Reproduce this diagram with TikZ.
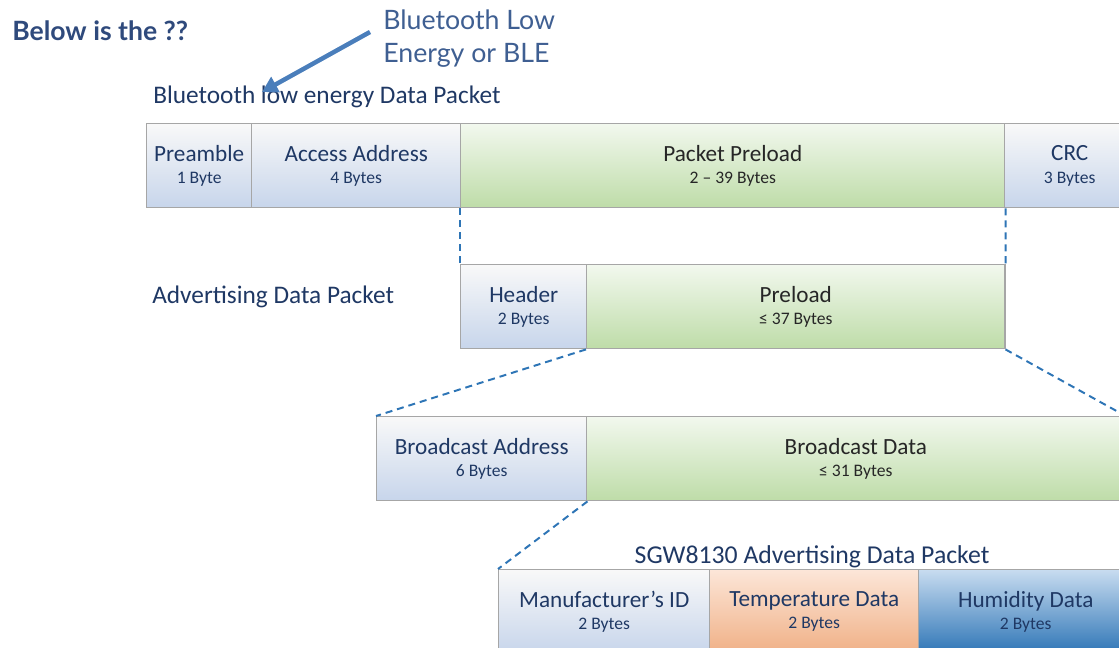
\documentclass[tikz,border=0pt]{standalone}
\usepackage{fontspec}
\setmainfont{Carlito}
\newfontfamily\lato{Lato}
\usetikzlibrary{arrows.meta}
\definecolor{bordergray}{HTML}{A6A6A6}
\definecolor{navy}{HTML}{1F3864}
\definecolor{darktxt}{HTML}{262626}
\definecolor{headblue}{HTML}{2F4A7C}
\definecolor{noteblue}{HTML}{3F5F92}
\definecolor{dashblue}{HTML}{2E75B6}
\definecolor{arrowblue}{HTML}{4A7EBB}
\newcommand\cellt[2]{{\fontsize{16.5}{18}\selectfont #1}\\[4pt]{\fontsize{12.5}{15}\selectfont #2}}
\tikzset{
  cell/.style={draw=bordergray, line width=1pt, anchor=north west, inner sep=0pt,
    align=center, minimum height=2.1cm},
  bluecell/.style={cell, top color=white!95!gray, middle color=white!84!gray,
    bottom color={rgb,255:red,199;green,213;blue,235}, text=navy},
  greencell/.style={cell, top color={rgb,255:red,242;green,248;blue,238},
    bottom color={rgb,255:red,190;green,220;blue,168}, text=darktxt},
  orangecell/.style={cell, top color={rgb,255:red,252;green,230;blue,216},
    bottom color={rgb,255:red,240;green,176;blue,134}, text=navy},
  humcell/.style={cell, top color={rgb,255:red,200;green,220;blue,240},
    middle color={rgb,255:red,165;green,198;blue,232},
    bottom color={rgb,255:red,46;green,117;blue,182}, text=navy},
  zoomline/.style={draw=dashblue, line width=1.4pt, dash pattern=on 5pt off 3.5pt},
  title/.style={anchor=west, inner sep=0pt, text=navy, font=\fontsize{18}{21}\selectfont},
}
\begin{document}
\begin{tikzpicture}[x=0.025cm, y=-0.025cm]
\useasboundingbox (0,0) rectangle (1119,648);
\clip (0,0) rectangle (1119,648);
% headings
\node[anchor=west, inner sep=0pt, text=headblue, font=\lato\bfseries\fontsize{18.9}{22}\selectfont] (q) at (12,31) {Below is the ??};
\node[anchor=north west, inner sep=0pt, align=left, text=noteblue, font=\lato\fontsize{19}{23.5}\selectfont] (ble) at (383,10) {Bluetooth Low\\Energy or BLE};
\node[title] (t1) at (153,97) {Bluetooth low energy Data Packet};
\node[title] (t2) at (152,297) {Advertising Data Packet};
% row 1
\node[bluecell, minimum width=2.625cm] (pre) at (146,123) {\cellt{Preamble}{1 Byte}};
\node[bluecell, minimum width=5.225cm] (acc) at (251,123) {\cellt{Access Address}{4 Bytes}};
\node[greencell, minimum width=13.6cm] (pp) at (460,123) {\cellt{Packet Preload}{2 – 39 Bytes}};
\node[bluecell, minimum width=3.25cm] (crc) at (1004,123) {\cellt{CRC}{3 Bytes}};
% row 2
\node[bluecell, minimum width=3.15cm] (hdr) at (460,264) {\cellt{Header}{2 Bytes}};
\node[greencell, minimum width=10.45cm] (pl) at (586,264) {\cellt{Preload}{≤ 37 Bytes}};
% row 3
\node[bluecell, minimum width=5.25cm] (bca) at (376,416) {\cellt{Broadcast Address}{6 Bytes}};
\node[greencell, minimum width=13.45cm] (bcd) at (586,416) {\cellt{Broadcast Data}{≤ 31 Bytes}};
% row 4
\node[anchor=center, inner sep=0pt, text=navy, font=\fontsize{18.3}{21}\selectfont] (t3) at (812,557) {SGW8130 Advertising Data Packet};
\node[bluecell, minimum width=5.275cm] (mfr) at (498,569) {\cellt{Manufacturer’s ID}{2 Bytes}};
\node[orangecell, minimum width=5.225cm] (tmp) at (709,569) {\cellt{Temperature Data}{2 Bytes}};
\node[humcell, minimum width=5.35cm] (hum) at (918,569) {\cellt{Humidity Data}{2 Bytes}};
% zoom connectors
\draw[zoomline] (pp.south west) -- (hdr.north west);
\draw[zoomline] (pp.south east) -- (pl.north east);
\draw[zoomline] (pl.south west) -- (bca.north west);
\draw[zoomline] (pl.south east) -- (bcd.north east);
\draw[zoomline] (bca.south east) -- (mfr.north west);
% annotation arrow
\coordinate (as) at (370,32);
\coordinate (ae) at (262,92);
\draw[arrowblue, line width=3.2pt, -{Triangle[length=11pt, width=12pt]}] (as) -- (ae);
\end{tikzpicture}
\end{document}
